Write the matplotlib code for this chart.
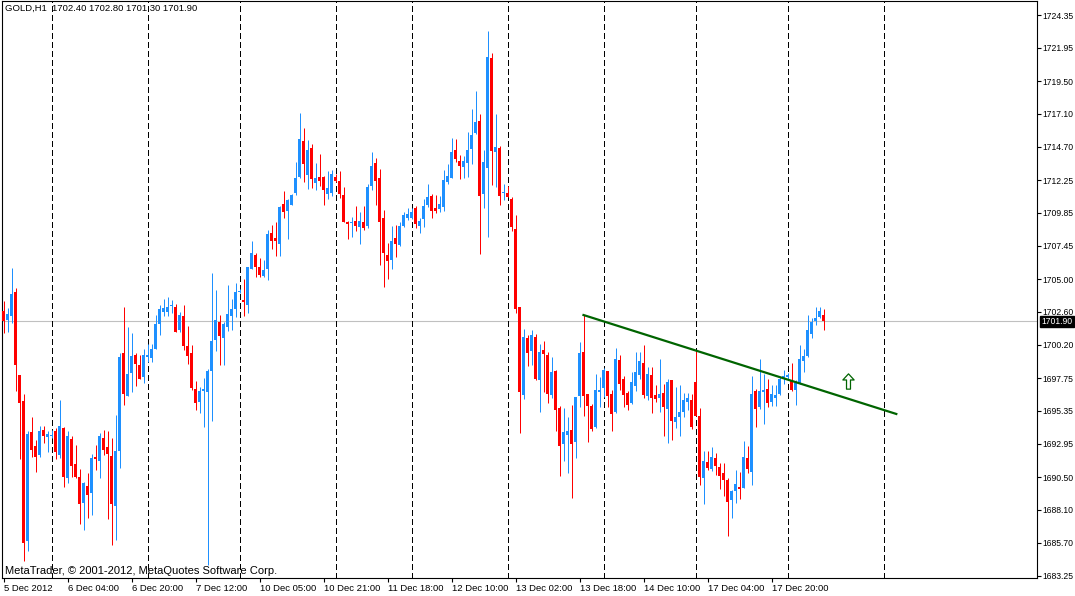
import numpy as np
import matplotlib
matplotlib.use("Agg")
import matplotlib.pyplot as plt
from matplotlib.path import Path
from matplotlib.transforms import blended_transform_factory


# ---------- DATA (GOLD H1) ----------

opens = [
    1702.67, 1702.01, 1702.32, 1704.06, 1697.98, 1696.07, 1685.84, 1693.80, 1692.77, 1692.14,
    1693.95, 1693.46, 1693.52, 1693.87, 1692.14, 1694.09, 1690.46, 1693.29, 1691.46, 1690.50,
    1688.62, 1689.85, 1689.36, 1691.99, 1691.70, 1693.36, 1692.70, 1692.04, 1688.40, 1692.41,
    1699.59, 1696.44, 1698.12, 1699.44, 1698.71, 1697.83, 1699.30, 1699.22, 1699.88, 1701.71,
    1702.59, 1702.59, 1703.03, 1702.96, 1701.27, 1702.30, 1700.10, 1699.59, 1696.95, 1696.02,
    1696.80, 1696.76, 1698.29, 1700.54, 1701.88, 1700.66, 1701.52, 1702.32, 1702.81, 1704.06,
    1703.47, 1703.13, 1705.74, 1706.77, 1705.89, 1705.23, 1705.74, 1708.38, 1708.01, 1707.57,
    1710.50, 1709.99, 1710.43, 1711.31, 1712.48, 1715.12, 1712.63, 1714.61, 1712.04, 1712.48,
    1712.48, 1711.24, 1711.31, 1712.48, 1712.19, 1711.16, 1709.19, 1709.11, 1709.26, 1708.84,
    1709.18, 1708.92, 1711.85, 1713.51, 1712.41, 1709.48, 1706.77, 1706.40, 1708.01, 1707.50,
    1708.89, 1709.48, 1709.48, 1710.21, 1708.89, 1709.40, 1710.43, 1711.09, 1710.21, 1710.14,
    1710.28, 1712.12, 1712.41, 1714.46, 1713.65, 1713.21, 1713.51, 1714.53, 1715.71, 1716.58,
    1711.24, 1713.14, 1721.20, 1714.31, 1714.61, 1711.31, 1711.31, 1710.87, 1708.67, 1702.96,
    1696.51, 1700.69, 1699.73, 1700.76, 1697.61, 1699.81, 1699.44, 1696.51, 1698.27, 1695.56,
    1692.92, 1693.58, 1693.95, 1693.07, 1696.44, 1699.66, 1696.58, 1695.71, 1694.17, 1696.73,
    1697.02, 1698.27, 1696.58, 1695.26, 1699.07, 1697.68, 1696.66, 1695.92, 1697.17, 1697.97,
    1698.86, 1696.44, 1697.97, 1696.51, 1696.29, 1696.66, 1695.49, 1697.61, 1694.53, 1694.90,
    1695.26, 1696.00, 1696.15, 1697.46, 1694.97, 1690.43, 1691.60, 1691.09, 1691.90, 1691.24,
    1690.80, 1690.28, 1688.82, 1689.48, 1689.77, 1689.70, 1691.90, 1690.87, 1696.80, 1695.63,
    1696.73, 1696.95, 1696.00, 1696.29, 1696.58, 1697.76, 1697.85, 1697.61, 1696.88, 1697.39,
    1699.00, 1699.37, 1700.98, 1701.93, 1702.23, 1702.40,
]
highs = [
    1703.40, 1702.88, 1705.81, 1704.35, 1697.98, 1696.58, 1693.87, 1694.90, 1693.21, 1694.24,
    1694.24, 1693.87, 1693.95, 1694.07, 1696.15, 1694.20, 1693.87, 1693.51, 1692.85, 1691.09,
    1690.16, 1690.77, 1692.19, 1692.85, 1693.70, 1693.95, 1693.87, 1693.36, 1695.05, 1699.59,
    1702.96, 1701.49, 1701.05, 1699.59, 1699.44, 1699.88, 1700.25, 1700.25, 1702.37, 1703.10,
    1703.54, 1703.69, 1703.47, 1703.18, 1702.59, 1703.10, 1701.57, 1700.17, 1697.50, 1697.12,
    1697.78, 1698.40, 1705.43, 1704.20, 1702.37, 1701.88, 1704.57, 1703.54, 1704.74, 1704.25,
    1705.01, 1705.89, 1707.82, 1706.91, 1706.55, 1706.40, 1708.60, 1708.97, 1709.19, 1710.36,
    1711.46, 1710.87, 1711.24, 1713.58, 1717.17, 1716.07, 1715.19, 1714.90, 1713.51, 1714.17,
    1712.56, 1712.92, 1712.99, 1712.70, 1712.92, 1711.75, 1709.26, 1709.58, 1710.36, 1709.92,
    1710.36, 1711.97, 1714.31, 1713.87, 1713.07, 1710.06, 1707.65, 1708.89, 1708.97, 1709.18,
    1709.92, 1710.21, 1710.21, 1710.36, 1709.48, 1710.87, 1711.97, 1711.24, 1711.16, 1711.09,
    1712.99, 1713.43, 1715.34, 1715.27, 1714.09, 1714.02, 1715.78, 1717.46, 1718.78, 1717.10,
    1714.46, 1723.18, 1721.57, 1717.10, 1714.75, 1711.97, 1711.82, 1711.02, 1709.70, 1702.96,
    1701.35, 1700.91, 1701.27, 1700.98, 1700.25, 1700.47, 1699.66, 1699.29, 1698.34, 1695.70,
    1695.56, 1694.90, 1695.78, 1696.36, 1700.39, 1702.37, 1696.58, 1695.85, 1698.05, 1697.83,
    1698.49, 1698.27, 1696.88, 1699.95, 1699.44, 1697.90, 1696.80, 1698.20, 1699.66, 1699.66,
    1700.17, 1698.56, 1698.56, 1697.24, 1699.15, 1697.32, 1697.68, 1697.61, 1697.10, 1697.24,
    1696.66, 1696.66, 1696.58, 1699.73, 1695.56, 1692.41, 1692.41, 1692.70, 1692.26, 1691.53,
    1691.53, 1690.43, 1689.55, 1691.02, 1690.87, 1693.14, 1692.77, 1697.90, 1696.95, 1699.15,
    1698.05, 1697.68, 1697.24, 1697.24, 1697.83, 1698.34, 1698.12, 1698.86, 1697.61, 1700.17,
    1699.88, 1702.37, 1702.15, 1702.96, 1702.96, 1702.80,
]
lows = [
    1701.03, 1701.15, 1701.76, 1696.83, 1691.82, 1684.35, 1685.10, 1691.99, 1690.89, 1691.99,
    1693.02, 1692.36, 1693.34, 1691.82, 1691.92, 1689.80, 1690.04, 1690.53, 1690.46, 1687.06,
    1686.62, 1687.50, 1687.72, 1691.02, 1690.46, 1692.14, 1687.45, 1685.54, 1685.89, 1691.19,
    1695.78, 1696.44, 1696.73, 1697.17, 1697.68, 1697.39, 1698.93, 1698.93, 1699.88, 1700.91,
    1702.30, 1702.30, 1702.49, 1701.15, 1701.15, 1699.81, 1698.78, 1696.88, 1695.41, 1695.17,
    1694.19, 1684.06, 1694.63, 1699.76, 1698.71, 1698.71, 1701.22, 1701.27, 1702.25, 1703.98,
    1702.30, 1702.54, 1705.74, 1705.18, 1705.18, 1705.13, 1704.94, 1707.21, 1706.70, 1706.70,
    1709.48, 1707.94, 1710.43, 1711.20, 1712.41, 1712.12, 1711.60, 1711.67, 1711.53, 1711.82,
    1710.43, 1710.90, 1711.09, 1712.12, 1710.94, 1709.19, 1707.94, 1708.11, 1708.55, 1707.60,
    1708.60, 1708.77, 1711.53, 1710.43, 1706.03, 1704.42, 1705.01, 1705.74, 1706.62, 1707.43,
    1708.82, 1709.33, 1709.40, 1708.74, 1708.38, 1708.82, 1710.28, 1709.48, 1709.85, 1709.92,
    1709.99, 1711.97, 1712.41, 1713.58, 1712.33, 1712.41, 1712.48, 1713.43, 1715.63, 1706.84,
    1710.21, 1708.09, 1711.90, 1711.75, 1710.43, 1710.80, 1711.00, 1708.53, 1702.52, 1693.73,
    1696.21, 1698.64, 1698.71, 1697.61, 1695.26, 1696.73, 1695.92, 1696.29, 1693.87, 1690.58,
    1691.68, 1690.80, 1688.96, 1691.90, 1695.63, 1694.97, 1693.07, 1693.87, 1694.10, 1695.63,
    1696.36, 1695.63, 1693.87, 1695.19, 1696.88, 1695.63, 1695.41, 1695.85, 1696.80, 1697.68,
    1696.29, 1696.14, 1695.19, 1695.99, 1695.26, 1693.51, 1692.99, 1693.21, 1694.09, 1693.51,
    1694.90, 1695.41, 1694.02, 1694.97, 1689.92, 1688.53, 1691.02, 1690.94, 1690.65, 1689.62,
    1689.11, 1686.18, 1687.50, 1688.60, 1688.89, 1689.70, 1690.80, 1689.92, 1694.17, 1695.49,
    1694.39, 1695.63, 1695.71, 1695.71, 1696.50, 1697.32, 1697.61, 1696.80, 1695.78, 1697.30,
    1698.20, 1699.30, 1700.69, 1701.64, 1702.15, 1701.30,
]
closes = [
    1701.96, 1702.45, 1703.91, 1698.73, 1695.95, 1685.69, 1693.65, 1692.48, 1691.99, 1693.87,
    1693.53, 1693.65, 1693.60, 1692.36, 1694.24, 1690.53, 1693.51, 1691.33, 1690.53, 1688.55,
    1690.04, 1689.21, 1691.90, 1691.82, 1693.51, 1692.48, 1692.19, 1688.55, 1692.41, 1699.30,
    1696.61, 1698.05, 1699.37, 1698.78, 1697.68, 1699.44, 1699.44, 1699.88, 1701.71, 1702.81,
    1702.88, 1702.96, 1703.10, 1701.15, 1702.37, 1700.12, 1699.39, 1697.05, 1695.95, 1696.80,
    1696.95, 1698.27, 1700.47, 1702.01, 1700.86, 1701.71, 1702.45, 1702.81, 1704.06, 1704.15,
    1703.32, 1705.89, 1706.91, 1705.91, 1705.30, 1705.67, 1708.31, 1707.82, 1707.79, 1710.28,
    1709.92, 1710.80, 1711.16, 1712.41, 1715.27, 1713.43, 1714.46, 1712.34, 1712.41, 1712.19,
    1711.53, 1711.68, 1712.70, 1712.19, 1711.24, 1709.19, 1709.04, 1709.18, 1708.92, 1709.26,
    1708.77, 1711.75, 1713.29, 1712.19, 1709.18, 1706.91, 1706.33, 1707.79, 1707.57, 1708.89,
    1709.70, 1709.77, 1709.92, 1709.04, 1709.26, 1710.36, 1711.02, 1709.99, 1709.99, 1710.50,
    1712.26, 1712.56, 1714.31, 1713.80, 1713.29, 1713.65, 1714.46, 1715.56, 1716.51, 1711.09,
    1713.58, 1721.27, 1714.39, 1714.68, 1711.09, 1711.38, 1711.02, 1708.82, 1702.81, 1696.73,
    1700.76, 1699.59, 1700.91, 1697.68, 1699.66, 1699.51, 1696.58, 1698.20, 1695.41, 1692.77,
    1693.80, 1693.87, 1692.92, 1696.36, 1699.59, 1696.44, 1695.71, 1694.02, 1696.88, 1696.88,
    1698.34, 1696.44, 1695.12, 1699.15, 1697.32, 1696.51, 1695.78, 1697.46, 1698.20, 1699.00,
    1696.51, 1698.05, 1696.29, 1696.22, 1696.58, 1695.63, 1697.46, 1694.61, 1694.90, 1695.26,
    1696.14, 1696.29, 1694.17, 1694.97, 1690.50, 1691.68, 1691.16, 1691.97, 1691.31, 1690.58,
    1690.28, 1688.67, 1689.48, 1689.99, 1689.62, 1691.97, 1691.09, 1696.58, 1695.49, 1696.80,
    1696.88, 1695.93, 1696.58, 1696.51, 1697.68, 1697.90, 1697.95, 1696.88, 1697.39, 1699.15,
    1699.37, 1701.27, 1701.86, 1702.15, 1702.67, 1701.90,
]

time_labels = [
    "5 Dec 2012", "6 Dec 04:00", "6 Dec 20:00", "7 Dec 12:00", "10 Dec 05:00",
    "10 Dec 21:00", "11 Dec 18:00", "12 Dec 10:00", "13 Dec 02:00", "13 Dec 18:00",
    "14 Dec 10:00", "17 Dec 04:00", "17 Dec 20:00",
]
label_every = 16
day_separators = [12, 36, 59, 83, 102, 126, 150, 173, 196, 220]

price_ticks = [1724.35, 1721.95, 1719.50, 1717.10, 1714.70, 1712.25, 1709.85, 1707.45,
               1705.00, 1702.60, 1700.20, 1697.75, 1695.35, 1692.95, 1690.50, 1688.10,
               1685.70, 1683.25]

symbol = "GOLD,H1"
last_price = 1701.90

# trendline drawn on the chart: (bar, price) -> (bar, price)
trend_start = (145, 1702.37)
trend_end = (223.2, 1695.12)
# up-arrow object
arrow_pos = (211.2, 1697.50)

UP = "#1E90FF"
DOWN = "#FF0000"
TREND = "#006400"
FONT = "Liberation Sans"

# ---------- PLOT ----------

W, H = 1075, 596
fig = plt.figure(figsize=(W / 100, H / 100), dpi=100)
fig.patch.set_facecolor("white")
ax = fig.add_axes([2 / W, 18 / H, 1035 / W, 577 / H])
ax.set_facecolor("white")

o = np.array(opens)
hi = np.array(highs)
lo = np.array(lows)
c = np.array(closes)
x = np.arange(len(o))
colors = np.where(c >= o, UP, DOWN)

# price line
ax.axhline(last_price, color="#C0C0C0", lw=0.8, zorder=1)

# day separators
for b in day_separators:
    ax.axvline(b, color="black", lw=0.75, dashes=(5, 3), zorder=2,
               antialiased=False)

# candles (4 px per bar, 1 px wick, 3 px body)
ax.vlines(x, lo, hi, colors=colors, lw=0.72, zorder=3)
body = np.maximum(np.abs(c - o), 0.06)
ax.bar(x, body, bottom=np.minimum(o, c), width=0.75, color=colors,
       linewidth=0, zorder=4)

# trendline
ax.plot([trend_start[0], trend_end[0]], [trend_start[1], trend_end[1]],
        color=TREND, lw=1.6, zorder=5)

# hollow up arrow
arrow = Path([(-0.13, -0.5), (0.13, -0.5), (0.13, 0.1), (0.37, 0.1), (0.0, 0.5),
              (-0.37, 0.1), (-0.13, 0.1), (-0.13, -0.5)],
             [Path.MOVETO] + [Path.LINETO] * 6 + [Path.CLOSEPOLY])
ax.plot([arrow_pos[0]], [arrow_pos[1]], marker=arrow, markersize=11,
        markerfacecolor="white", markeredgecolor=TREND, markeredgewidth=0.9,
        linestyle="none", zorder=6)

ax.set_xlim(-0.375, 258.375)
ax.set_ylim(1683.10, 1725.38)

# axes and ticks
for s in ax.spines.values():
    s.set_color("black")
    s.set_linewidth(0.8)

ax.yaxis.tick_right()
ax.set_yticks(price_ticks)
ax.set_yticklabels([f"{p:.2f}" for p in price_ticks])
ax.set_xticks(np.arange(len(time_labels)) * label_every)
ax.set_xticklabels(time_labels)
ax.tick_params(axis="both", direction="out", length=3, width=0.8, color="black",
               labelsize=6.8, pad=1.5)
ax.tick_params(axis="y", labelsize=6.2, pad=1.2)
for lab in ax.get_xticklabels():
    lab.set_horizontalalignment("left")
    lab.set_fontfamily(FONT)
for lab in ax.get_yticklabels():
    lab.set_fontfamily(FONT)

# current price box on the scale
trans = blended_transform_factory(ax.transAxes, ax.transData)
ax.text(1.0045, last_price, f"{last_price:.2f}", transform=trans, ha="left", va="center",
        fontsize=6.2, family=FONT, color="white", zorder=10, clip_on=False,
        bbox=dict(boxstyle="square,pad=0.15", facecolor="black", edgecolor="black"))

# header and footer
header = f"{symbol}  {opens[-1]:.2f} {highs[-1]:.2f} {lows[-1]:.2f} {closes[-1]:.2f}"
ax.text(0.003, 0.988, header, transform=ax.transAxes, ha="left", va="center",
        fontsize=6.8, family=FONT, color="black")
ax.text(0.003, 0.012, "MetaTrader, \u00a9 2001-2012, MetaQuotes Software Corp.",
        transform=ax.transAxes, ha="left", va="center", fontsize=8.0, family=FONT,
        color="black")

fig.savefig("out.png", dpi=100)
